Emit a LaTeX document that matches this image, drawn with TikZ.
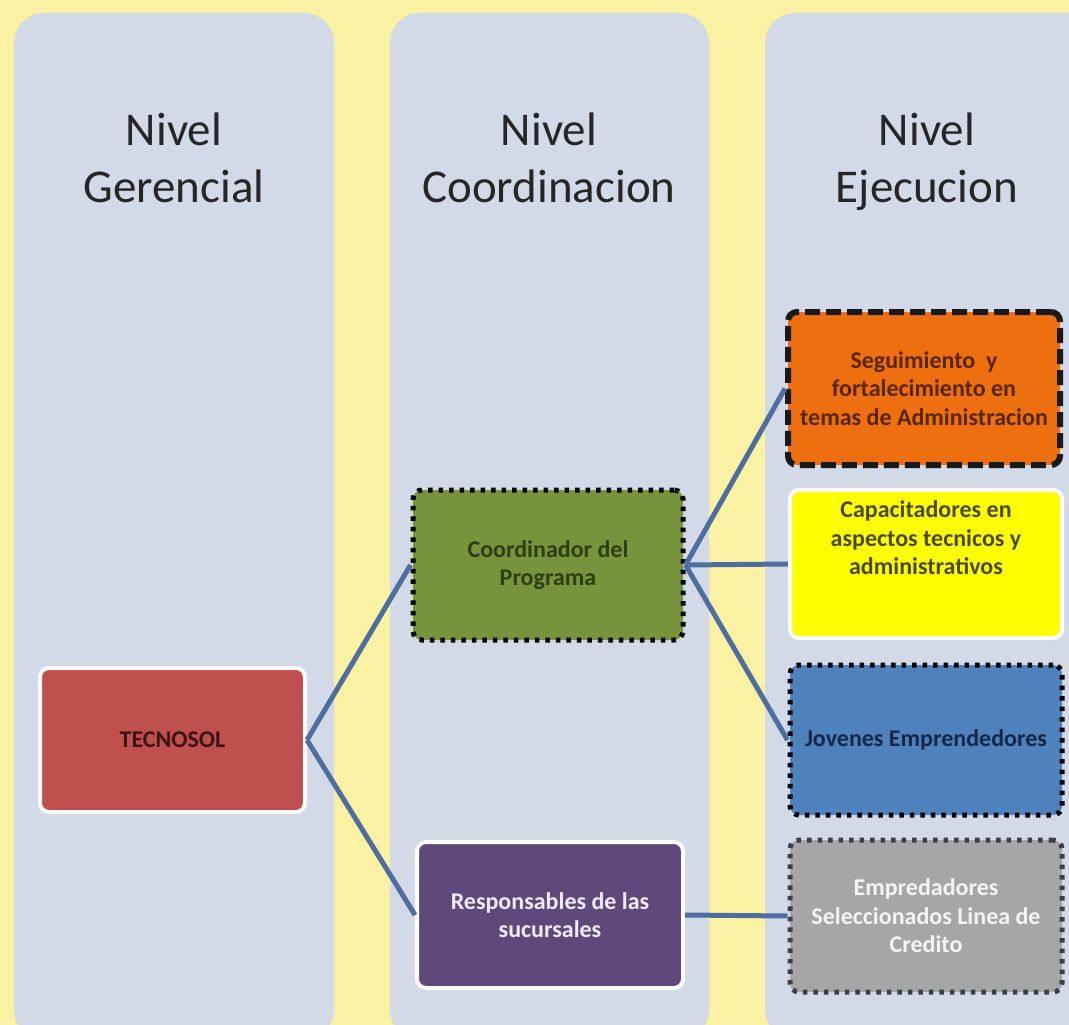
\documentclass[tikz,border=0pt]{standalone}
\usepackage{fontspec}
\setmainfont{Carlito}
\definecolor{bgyellow}{HTML}{FAF1A2}
\definecolor{colbg}{HTML}{D2DAE7}
\definecolor{linkc}{HTML}{4E6E9F}
\definecolor{redbox}{HTML}{C0504D}
\definecolor{greenbox}{HTML}{77933C}
\definecolor{purplebox}{HTML}{5F497A}
\definecolor{orangebox}{HTML}{EE6F0F}
\definecolor{yellowbox}{HTML}{FFFF00}
\definecolor{bluebox}{HTML}{4F81BD}
\definecolor{greybox}{HTML}{A6A6A6}
\definecolor{txtred}{HTML}{3B1514}
\definecolor{txtgreen}{HTML}{2F3E12}
\definecolor{txtorange}{HTML}{5A2600}
\definecolor{txtyellow}{HTML}{4A4A05}
\definecolor{txtblue}{HTML}{14284A}
\definecolor{txtpurple}{HTML}{F1E9F8}
\definecolor{txtgrey}{HTML}{F4F4F4}
\definecolor{dotgrey}{HTML}{3A3F4A}
\begin{document}
\begin{tikzpicture}[x=1pt,y=-1pt,
  colstyle/.style={fill=colbg, rounded corners=30pt},
  titlestyle/.style={anchor=north, inner sep=0pt, align=center, text=black!85,
    font=\fontsize{47}{57}\selectfont},
  boxstyle/.style={rounded corners=9pt, line width=4pt, inner sep=2pt, align=center,
    font=\fontsize{24}{28.5}\selectfont\bfseries},
  whiteborder/.style={boxstyle, draw=white},
  dotborder/.style={boxstyle, draw=black, line width=5pt, dash pattern=on 4.5pt off 6pt},
  dashborder/.style={boxstyle, draw=black!90, line width=6pt, dash pattern=on 15pt off 6pt},
  link/.style={draw=linkc, line width=5pt}
]
\useasboundingbox (0,0) rectangle (1069,1025);
\fill[bgyellow] (0,0) rectangle (1069,1025);
\begin{scope}
\clip (0,0) rectangle (1069,1025);
\fill[colstyle] (14,13) rectangle (334,1040);
\fill[colstyle] (390,13) rectangle (709,1040);
\fill[colstyle] (765,13) rectangle (1100,1040);
\end{scope}

\node[titlestyle] (t1) at (174,113) {Nivel\\Gerencial};
\node[titlestyle] (t2) at (549,113) {Nivel\\Coordinacion};
\node[titlestyle] (t3) at (927,113) {Nivel\\Ejecucion};

\node[whiteborder, fill=redbox, text=txtred, minimum width=265pt, minimum height=144pt] (tec) at (172.5,740) {TECNOSOL};
\node[dotborder, fill=greenbox, text=txtgreen, minimum width=270pt, minimum height=150pt] (coord) at (548,565) {Coordinador del\\Programa};
\node[whiteborder, fill=purplebox, text=txtpurple, minimum width=266pt, minimum height=146pt] (resp) at (550,915) {Responsables de las\\sucursales};
\node[dashborder, fill=orangebox, text=txtorange, minimum width=272pt, minimum height=153pt] (seg) at (924,388.5) {Seguimiento\ \ y\\fortalecimiento en\\temas de Administracion};
\node[whiteborder, fill=yellowbox, minimum width=272pt, minimum height=148pt] (cap) at (926,564) {};
\node[boxstyle, anchor=north, text=txtyellow] (captext) at (926,497) {Capacitadores en\\aspectos tecnicos y\\administrativos};
\node[dotborder, fill=bluebox, text=txtblue, minimum width=272pt, minimum height=150pt] (jov) at (926,740) {Jovenes Emprendedores};
\node[dotborder, draw=dotgrey, fill=greybox, text=txtgrey, minimum width=272pt, minimum height=152pt] (emp) at (926,916) {Empredadores\\Seleccionados Linea de\\Credito};

\draw[link] (tec.east) -- (coord.west);
\draw[link] (tec.east) -- (resp.west);
\draw[link] (coord.east) -- (seg.west);
\draw[link] (coord.east) -- (cap.west);
\draw[link] (coord.east) -- (jov.west);
\draw[link] (resp.east) -- (emp.west);
\end{tikzpicture}
\end{document}
